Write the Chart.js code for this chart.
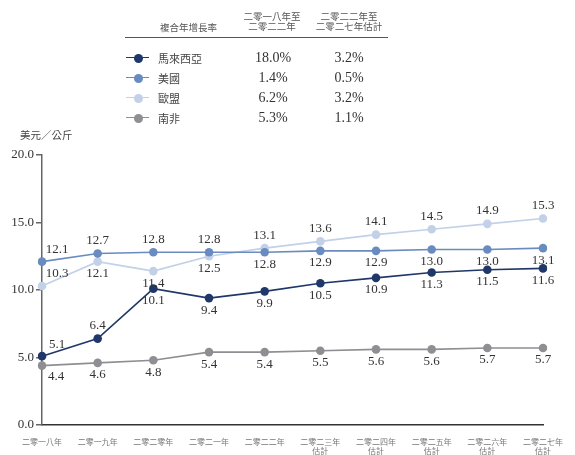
<!DOCTYPE html>
<html>
<head>
<meta charset="utf-8">
<script src="https://cdn.jsdelivr.net/npm/chart.js@4/dist/chart.umd.min.js"></script>
<style>
  html, body { margin: 0; padding: 0; background: #fff; }
  #wrap { position: relative; width: 575px; height: 455px; overflow: hidden; }
  #c { position: absolute; left: 0; top: 0; }
  .t { position: absolute; white-space: nowrap; color: #555; font-family: "Noto Sans CJK TC", "Noto Sans CJK SC", sans-serif; }
  .num { position: absolute; white-space: nowrap; color: #333; font-family: "Liberation Serif", "DejaVu Serif", serif; font-size: 14px; transform: translate(-50%, -50%); }
  .hdr { font-size: 9.5px; line-height: 10px; text-align: center; transform: translateX(-50%); }
  .rule { position: absolute; left: 125px; top: 37px; width: 263px; height: 0; border-top: 1.5px solid #555; }
  .mk { position: absolute; width: 23px; height: 0; }
  .dot { position: absolute; width: 9px; height: 9px; border-radius: 50%; }
</style>
</head>
<body>
<div id="wrap">
  <canvas id="c" width="575" height="455"></canvas>
  <div id="legend"></div>
</div>
<script>
// Years along the x axis (forecast years carry a second line)
const categories = [
  '二零一八年', '二零一九年', '二零二零年', '二零二一年', '二零二二年',
  ['二零二三年', '估計'], ['二零二四年', '估計'], ['二零二五年', '估計'],
  ['二零二六年', '估計'], ['二零二七年', '估計']
];

// Price per kilogram, USD
const malaysia     = [5.1, 6.4, 10.1, 9.4, 9.9, 10.5, 10.9, 11.3, 11.5, 11.6];
const unitedStates = [12.1, 12.7, 12.8, 12.8, 12.8, 12.9, 12.9, 13.0, 13.0, 13.1];
const europeanUnion = [10.3, 12.1, 11.4, 12.5, 13.1, 13.6, 14.1, 14.5, 14.9, 15.3];
const southAfrica  = [4.4, 4.6, 4.8, 5.4, 5.4, 5.5, 5.6, 5.6, 5.7, 5.7];

const seriesNames = ['馬來西亞', '美國', '歐盟', '南非'];

// CAGR table: 2018–2022 and 2022–2027E
const cagr2018to2022 = ['18.0%', '1.4%', '6.2%', '5.3%'];
const cagr2022to2027 = ['3.2%', '0.5%', '3.2%', '1.1%'];

const yTicks = [0, 5, 10, 15, 20];

const colors = ['#1f3869', '#6a8bc0', '#c2d1e8', '#8f8f93'];

// Label side for each point: 'a' above, 'b' below, 'ar' above-right, 'br' below-right
const labelSides = [
  ['ar', 'a', 'b', 'b', 'b', 'b', 'b', 'b', 'b', 'b'],
  ['ar', 'a', 'a', 'a', 'b', 'b', 'b', 'b', 'b', 'b'],
  ['ar', 'b', 'b', 'b', 'a', 'a', 'a', 'a', 'a', 'a'],
  ['br', 'b', 'b', 'b', 'b', 'b', 'b', 'b', 'b', 'b']
];

const seriesValues = [malaysia, unitedStates, europeanUnion, southAfrica];

// ---- CAGR legend table ----
const legend = document.getElementById('legend');
function addText(cls, text, left, top, extra) {
  const d = document.createElement('div');
  d.className = cls;
  d.innerHTML = text;
  d.style.left = left + 'px';
  d.style.top = top + 'px';
  if (extra) Object.assign(d.style, extra);
  legend.appendChild(d);
  return d;
}
addText('t', '複合年增長率', 160, 20, { fontSize: '9.5px' });
addText('t hdr', '二零一八年至<br>二零二二年', 272, 11);
addText('t hdr', '二零二二年至<br>二零二七年估計', 349, 11);
const rule = document.createElement('div');
rule.className = 'rule';
legend.appendChild(rule);

const rowY = [58, 78, 98, 118];
seriesNames.forEach((name, i) => {
  const line = document.createElement('div');
  line.className = 'mk';
  line.style.left = '126px';
  line.style.top = (rowY[i] - 0.75) + 'px';
  line.style.borderTop = '1.5px solid ' + colors[i];
  legend.appendChild(line);
  const dot = document.createElement('div');
  dot.className = 'dot';
  dot.style.left = (138 - 4.5) + 'px';
  dot.style.top = (rowY[i] - 4.5) + 'px';
  dot.style.background = colors[i];
  legend.appendChild(dot);
  addText('t', name, 158, rowY[i] - 8, { fontSize: '11px', color: '#444' });
  addText('num', cagr2018to2022[i], 273, rowY[i]);
  addText('num', cagr2022to2027[i], 349, rowY[i]);
});
addText('t', '美元／公斤', 20, 127, { fontSize: '10.5px', color: '#444' });

// ---- value labels drawn next to each point ----
const valueLabels = {
  id: 'valueLabels',
  afterDatasetsDraw(chart) {
    const ctx = chart.ctx;
    ctx.save();
    ctx.font = '13px "Liberation Serif", "DejaVu Serif", serif';
    ctx.fillStyle = '#333';
    ctx.textAlign = 'center';
    ctx.textBaseline = 'middle';
    chart.data.datasets.forEach((ds, di) => {
      const meta = chart.getDatasetMeta(di);
      meta.data.forEach((pt, i) => {
        const side = labelSides[di][i];
        let dx = 0, dy = 0;
        if (side === 'a') dy = -13;
        else if (side === 'b') dy = 12;
        else if (side === 'ar') { dx = 15; dy = -12; }
        else if (side === 'br') { dx = 14; dy = 11; }
        ctx.fillText(ds.data[i].toFixed(1), pt.x + dx, pt.y + dy);
      });
    });
    ctx.restore();
  }
};

new Chart(document.getElementById('c'), {
  type: 'line',
  data: {
    labels: categories,
    datasets: seriesValues.map((vals, i) => ({
      label: seriesNames[i],
      data: vals,
      borderColor: colors[i],
      backgroundColor: colors[i],
      pointBackgroundColor: colors[i],
      pointBorderColor: colors[i],
      pointRadius: 4.3,
      pointBorderWidth: 0,
      borderWidth: 1.6,
      tension: 0,
      order: [1, 2, 3, 4][i]
    }))
  },
  options: {
    responsive: false,
    animation: false,
    devicePixelRatio: 1,
    layout: { padding: { left: 0, right: 23, top: 155, bottom: 0 } },
    plugins: {
      legend: { display: false },
      tooltip: { enabled: false }
    },
    scales: {
      x: {
        type: 'category',
        offset: false,
        grid: { display: true, drawOnChartArea: false, drawTicks: false },
        border: { display: true, color: '#333', width: 1.5 },
        ticks: {
          autoSkip: false,
          maxRotation: 0,
          padding: 12,
          color: '#777',
          font: { family: '"Noto Sans CJK TC", "Noto Sans CJK SC", sans-serif', size: 8, lineHeight: 1.15 }
        },
        afterFit(scale) { scale.height = 30; }
      },
      y: {
        min: 0,
        max: 20,
        afterBuildTicks(scale) { scale.ticks = yTicks.map(v => ({ value: v })); },
        grid: { drawOnChartArea: false, drawTicks: true, tickLength: 6, tickColor: '#666', lineWidth: 1.5 },
        border: { display: true, color: '#666', width: 1.5 },
        ticks: {
          padding: 2,
          color: '#333',
          font: { family: '"Liberation Serif", "DejaVu Serif", serif', size: 13 },
          callback: v => Number(v).toFixed(1)
        },
        afterFit(scale) { scale.width = 42; }
      }
    }
  },
  plugins: [valueLabels]
});
</script>
</body>
</html>
